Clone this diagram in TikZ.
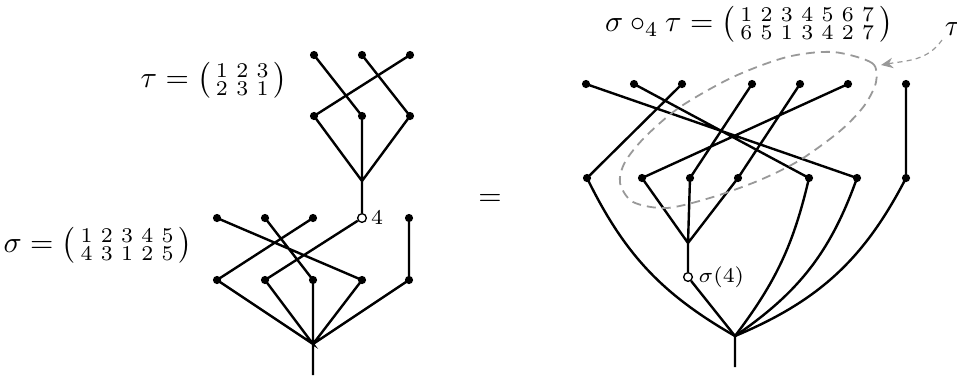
\documentclass[tikz,border=0pt]{standalone}
\usepackage{amsmath}
\usetikzlibrary{arrows.meta}

\begin{document}
\begin{tikzpicture}[scale=0.3333,thick]
		\useasboundingbox (0pt,0pt) rectangle (957pt,-378pt);
		% 空心点的样式
		\tikzset{hollow/.style={circle,draw,line width=0.45pt,fill=white,inner sep=0pt,minimum size=2.9pt}}
		
		% 左边的 tau
		\coordinate (t1) at(314pt,-55pt);
		\coordinate (t2) at(362pt,-55pt);
		\coordinate (t3) at(410pt,-55pt);
		\coordinate (u1) at(314pt,-116pt);
		\coordinate (u2) at(362pt,-116pt);
		\coordinate (u3) at(410pt,-116pt);
		\coordinate (tr) at(362pt,-181pt);
		\node[hollow] (c4) at(362pt,-218pt) {};
		
		% 左边的 sigma
		\coordinate (s1) at(217pt,-218pt);
		\coordinate (s2) at(265pt,-218pt);
		\coordinate (s3) at(313pt,-218pt);
		\coordinate (s5) at(409pt,-218pt);
		\coordinate (m1) at(217pt,-280pt);
		\coordinate (m2) at(265pt,-280pt);
		\coordinate (m3) at(313pt,-280pt);
		\coordinate (m4) at(362pt,-280pt);
		\coordinate (m5) at(409pt,-280pt);
		\coordinate (sr) at(313pt,-344pt);
		\coordinate (sb) at(313pt,-375pt);
		
		\draw (t1)--(u2) (t2)--(u3) (t3)--(u1);
		\draw (u1)--(tr)--(u3) (u2)--(tr)--(c4);
		\draw (s1)--(m4) (s2)--(m3) (s3)--(m1) (c4)--(m2) (s5)--(m5);
		\draw (m1)--(sr)--(m2) (m3)--(sr)--(m4) (m5)--(sr)--(sb);
		\foreach \p in {t1,t2,t3,u1,u2,u3,s1,s2,s3,s5,m1,m2,m3,m4,m5}
			\filldraw (\p) circle(2.8pt);
		\node[right,font=\scriptsize,inner sep=1pt] at(c4.east){$4$};
		
		\node (taueq) at(214pt,-80pt){$\tau=\bigl(\begin{smallmatrix}1&2&3\\2&3&1\end{smallmatrix}\bigr)$};
		\node (sigeq) at(98pt,-245pt){$\sigma=\bigl(\begin{smallmatrix}1&2&3&4&5\\4&3&1&2&5\end{smallmatrix}\bigr)$};
		\node (eqsign) at(490pt,-200pt){$=$};
		
		% 右边的复合
		\coordinate (a1) at(586pt,-84pt);
		\coordinate (a2) at(634pt,-84pt);
		\coordinate (a3) at(682pt,-84pt);
		\coordinate (a4) at(752pt,-84pt);
		\coordinate (a5) at(800pt,-84pt);
		\coordinate (a6) at(848pt,-84pt);
		\coordinate (a7) at(906pt,-84pt);
		\coordinate (b1) at(587pt,-178pt);
		\coordinate (b2) at(642pt,-178pt);
		\coordinate (b3) at(690pt,-178pt);
		\coordinate (b4) at(738pt,-178pt);
		\coordinate (b5) at(809pt,-178pt);
		\coordinate (b6) at(857pt,-178pt);
		\coordinate (b7) at(906pt,-178pt);
		\coordinate (ir) at(688pt,-243pt);
		\node[hollow] (cs) at(688pt,-277pt) {};
		\coordinate (rr) at(735pt,-336pt);
		\coordinate (rb) at(735pt,-367pt);
		
		\draw (a1)--(b6) (a2)--(b5) (a3)--(b1) (a4)--(b3) (a5)--(b4) (a6)--(b2) (a7)--(b7);
		\draw (b2)--(ir)--(b4) (b3)--(ir)--(cs)--(rr)--(rb);
		\draw (b1) to[bend right=17] (rr);
		\draw (b5) to[bend left=12] (rr);
		\draw (b6) to[bend left=18] (rr);
		\draw (b7) to[bend left=20] (rr);
		\foreach \p in {a1,a2,a3,a4,a5,a6,a7,b1,b2,b3,b4,b5,b6,b7}
			\filldraw (\p) circle(2.8pt);
		\node[right,font=\scriptsize,inner sep=1.5pt] at(cs.east){$\sigma(4)$};
		
		\node[inner sep=1pt] (comp) at(749pt,-24pt){$\sigma\circ_4\tau=\bigl(\begin{smallmatrix}1&2&3&4&5&6&7\\6&5&1&3&4&2&7\end{smallmatrix}\bigr)$};
		
		% 标注 tau 的区域
		\draw[black!40,semithick,dash pattern=on 3pt off 2pt] plot[smooth cycle] coordinates {
			(833pt,-52pt) (872pt,-63pt) (876pt,-82pt) (864pt,-106pt) (840pt,-131pt)
			(800pt,-160pt) (760pt,-180pt) (713pt,-197pt) (667pt,-208pt) (633pt,-202pt)
			(620pt,-183pt) (625pt,-162pt) (645pt,-137pt) (680pt,-107pt) (733pt,-77pt) (787pt,-57pt)};
		\node (taulab) at(953pt,-29pt){$\tau$};
		\coordinate (arrS) at(942pt,-40pt);
		\coordinate (arrE) at(881pt,-65pt);
		\draw[black!40,thin,dash pattern=on 1.7pt off 1.4pt,-{Stealth[length=4pt,width=3.5pt]}] (arrS) to[out=-125,in=10] (arrE);
		
	\end{tikzpicture}
\end{document}
